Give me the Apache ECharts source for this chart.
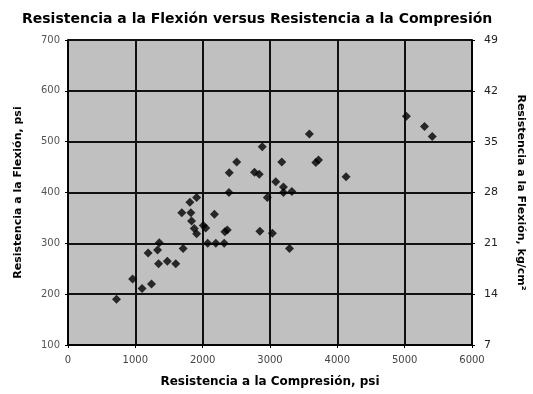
<!DOCTYPE html>
<html>
<head>
<meta charset="utf-8">
<script src="https://cdn.jsdelivr.net/npm/echarts@6/dist/echarts.min.js"></script>
<style>html,body{margin:0;padding:0;background:#fff;}#c{width:533px;height:394px;}</style>
</head>
<body>
<div id="c"></div>
<script>
const compresion = [720, 960, 1100, 1240, 1190, 1330, 1355, 1345, 1475, 1600, 1710, 1690, 1825, 1810, 1910, 1835, 1875, 1910, 2010, 2045, 2175, 2075, 2195, 2320, 2330, 2365, 2390, 2395, 2505, 2770, 2840, 2885, 2850, 3035, 2960, 3085, 3175, 3200, 3200, 3325, 3290, 3585, 3680, 3720, 4130, 5025, 5295, 5410];
const flexion = [190, 230, 211, 220, 281, 287, 301, 260, 265, 260, 290, 360, 360, 381, 390, 344, 329, 319, 335, 330, 357, 300, 300, 300, 323, 326, 400, 439, 460, 440, 436, 490, 324, 320, 390, 421, 460, 411, 400, 402, 290, 515, 459, 464, 431, 550, 530, 510];
const xTicks = [0, 1000, 2000, 3000, 4000, 5000, 6000];
const yTicksPsi = [100, 200, 300, 400, 500, 600, 700];
const yTicksKg = [7, 14, 21, 28, 35, 42, 49];

const wide = 'DejaVu Sans, Verdana, sans-serif';
const chart = echarts.init(document.getElementById('c'));
chart.setOption({
  animation: false,
  backgroundColor: '#ffffff',
  title: {
    text: 'Resistencia a la Flexión versus Resistencia a la Compresión',
    left: 17, top: 7,
    textStyle: { fontFamily: wide, fontSize: 14, fontWeight: 'bold', color: '#000' }
  },
  grid: {
    left: 68, right: 61, top: 40, bottom: 49,
    outerBoundsMode: 'none', containLabel: false,
    show: true, backgroundColor: '#c0c0c0', borderColor: '#000', borderWidth: 1.5
  },
  xAxis: {
    type: 'value', min: 0, max: 6000, interval: 1000,
    name: 'Resistencia a la Compresión, psi', nameLocation: 'middle', nameGap: 31,
    nameTextStyle: { fontFamily: wide, fontSize: 12, fontWeight: 'bold', color: '#000' },
    axisLine: { show: true, lineStyle: { color: '#000', width: 1.5 } },
    axisTick: { show: true, length: 3, lineStyle: { color: '#000' } },
    axisLabel: { fontFamily: wide, fontSize: 10, color: '#444', margin: 10, formatter: v => String(v) },
    splitLine: { show: true, lineStyle: { color: '#111', width: 2 } }
  },
  yAxis: [{
    type: 'value', min: 100, max: 700, interval: 100, position: 'left',
    name: 'Resistencia a la Flexión, psi', nameLocation: 'middle', nameGap: 44,
    nameTextStyle: { fontFamily: wide, fontSize: 11, fontWeight: 'bold', color: '#000' },
    axisLine: { show: true, lineStyle: { color: '#000', width: 1.5 } },
    axisTick: { show: true, length: 3, lineStyle: { color: '#000' } },
    axisLabel: { fontFamily: wide, fontSize: 10, color: '#555', margin: 8 },
    splitLine: { show: true, lineStyle: { color: '#111', width: 2 } }
  }, {
    type: 'value', min: 7, max: 49, interval: 7, position: 'right',
    name: 'Resistencia a la Flexión, kg/cm²', nameLocation: 'middle', nameGap: 43, nameRotate: -90,
    nameTextStyle: { fontFamily: wide, fontSize: 11, fontWeight: 'bold', color: '#000' },
    axisLine: { show: true, lineStyle: { color: '#000', width: 1.5 } },
    axisTick: { show: true, length: 3, lineStyle: { color: '#000' } },
    axisLabel: { fontFamily: wide, fontSize: 11, color: '#222', margin: 12 },
    splitLine: { show: false }
  }],
  series: [{
    type: 'scatter',
    yAxisIndex: 0,
    symbol: 'diamond', symbolSize: 9,
    itemStyle: { color: '#000' },
    data: compresion.map((v, i) => [v, flexion[i]])
  }]
});
</script>
</body>
</html>
